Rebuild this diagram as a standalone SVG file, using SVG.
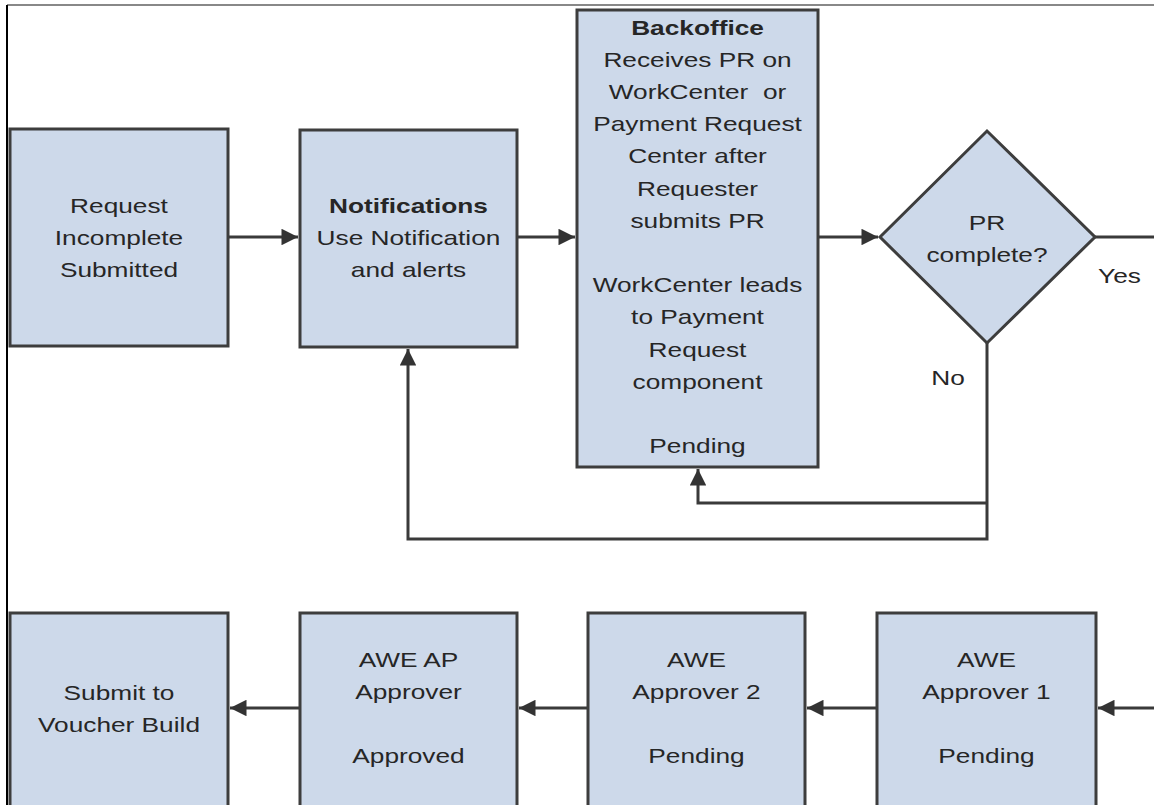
<svg xmlns="http://www.w3.org/2000/svg" width="1154" height="805" viewBox="0 0 1154 805">
<style>
.box{fill:#cdd9ea;stroke:#3d3d3d;stroke-width:3}
.t{font-family:"Liberation Sans",Arial,sans-serif;font-size:21px;fill:#262626;text-anchor:middle}
.b{font-weight:bold}
.c{fill:none;stroke:#3a3a3a;stroke-width:3}
</style>
<defs>
<marker id="ah" viewBox="0 0 10 10" refX="10" refY="5" markerWidth="6.5" markerHeight="5.5" markerUnits="strokeWidth" orient="auto">
<path d="M0,0 L10,5 L0,10 z" fill="#333"/>
</marker>
</defs>
<rect width="1154" height="805" fill="#fff"/>
<line x1="7" y1="5" x2="1154" y2="5" stroke="#888" stroke-width="2"/>
<line x1="7" y1="5" x2="7" y2="805" stroke="#000" stroke-width="2"/>

<g id="connectors">
<path class="c" d="M228,237 H298" marker-end="url(#ah)"/>
<path class="c" d="M517,237 H575" marker-end="url(#ah)"/>
<path class="c" d="M818,237 H878" marker-end="url(#ah)"/>
<path class="c" d="M1095,237 H1154"/>
<path class="c" d="M987,343 V539 H408 V349" marker-end="url(#ah)"/>
<path class="c" d="M987,503 H698 V469" marker-end="url(#ah)"/>
<path class="c" d="M300,708 H230" marker-end="url(#ah)"/>
<path class="c" d="M588,708 H519" marker-end="url(#ah)"/>
<path class="c" d="M877,708 H807" marker-end="url(#ah)"/>
<path class="c" d="M1154,708 H1098" marker-end="url(#ah)"/>
<text class="t" transform="translate(1119.5 0) scale(1.25 1)" y="283">Yes</text>
<text class="t" transform="translate(948 0) scale(1.25 1)" y="385">No</text>
</g>

<g id="n-request">
<rect class="box" x="10" y="129" width="218" height="217"/>
<g transform="translate(119 0) scale(1.25 1)">
<text class="t" y="213">Request</text>
<text class="t" y="245">Incomplete</text>
<text class="t" y="277">Submitted</text>
</g>
</g>

<g id="n-notifications">
<rect class="box" x="300" y="130" width="217" height="217"/>
<g transform="translate(408.5 0) scale(1.25 1)">
<text class="t b" y="213">Notifications</text>
<text class="t" y="245">Use Notification</text>
<text class="t" y="277">and alerts</text>
</g>
</g>

<g id="n-backoffice">
<rect class="box" x="577" y="10" width="241" height="457"/>
<g transform="translate(697.5 0) scale(1.25 1)">
<text class="t b" y="35">Backoffice</text>
<text class="t" y="67">Receives PR on</text>
<text class="t" y="99">WorkCenter&#160; or</text>
<text class="t" y="131">Payment Request</text>
<text class="t" y="163">Center after</text>
<text class="t" y="196">Requester</text>
<text class="t" y="228">submits PR</text>
<text class="t" y="292">WorkCenter leads</text>
<text class="t" y="324">to Payment</text>
<text class="t" y="357">Request</text>
<text class="t" y="389">component</text>
<text class="t" y="453">Pending</text>
</g>
</g>

<g id="n-decision">
<polygon class="box" points="880,237 987,131 1095,237 987,343"/>
<g transform="translate(987 0) scale(1.25 1)">
<text class="t" y="230">PR</text>
<text class="t" y="262">complete?</text>
</g>
</g>

<g id="n-voucher">
<rect class="box" x="10" y="613" width="218" height="210"/>
<g transform="translate(119 0) scale(1.25 1)">
<text class="t" y="700">Submit to</text>
<text class="t" y="732">Voucher Build</text>
</g>
</g>

<g id="n-awe-ap">
<rect class="box" x="300" y="613" width="217" height="210"/>
<g transform="translate(408.5 0) scale(1.25 1)">
<text class="t" y="667">AWE AP</text>
<text class="t" y="699">Approver</text>
<text class="t" y="763">Approved</text>
</g>
</g>

<g id="n-awe-2">
<rect class="box" x="588" y="613" width="217" height="210"/>
<g transform="translate(696.5 0) scale(1.25 1)">
<text class="t" y="667">AWE</text>
<text class="t" y="699">Approver 2</text>
<text class="t" y="763">Pending</text>
</g>
</g>

<g id="n-awe-1">
<rect class="box" x="877" y="613" width="219" height="210"/>
<g transform="translate(986.5 0) scale(1.25 1)">
<text class="t" y="667">AWE</text>
<text class="t" y="699">Approver 1</text>
<text class="t" y="763">Pending</text>
</g>
</g>
</svg>
